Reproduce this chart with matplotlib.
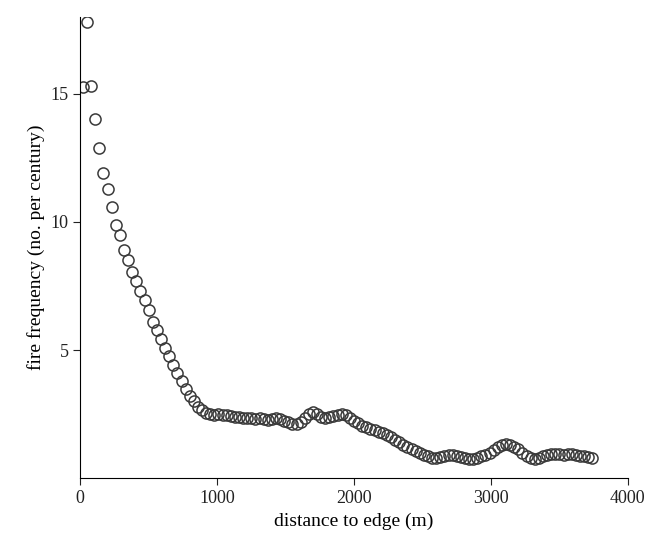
import matplotlib
matplotlib.use("Agg")
import matplotlib.pyplot as plt
import numpy as np

plt.rcParams["font.family"] = ["Liberation Serif", "DejaVu Serif"]

# distance to edge (m), every 30 m
distance = np.arange(20, 3750, 30)
freq = [
    15.25, 17.8, 15.3, 14.0, 12.9, 11.9, 11.3, 10.6, 9.9, 9.5,
    8.9, 8.5, 8.05, 7.7, 7.3, 6.95, 6.55, 6.1, 5.8, 5.45,
    5.1, 4.75, 4.4, 4.1, 3.8, 3.5, 3.2, 3.0, 2.78, 2.65,
    2.55, 2.5, 2.45,
    2.5, 2.48, 2.45, 2.42, 2.4, 2.38, 2.36, 2.35, 2.33, 2.32,
    2.33, 2.3, 2.28, 2.3, 2.35, 2.3, 2.25, 2.2, 2.12, 2.1,
    2.2, 2.35, 2.5, 2.6, 2.5, 2.4, 2.35, 2.38, 2.42, 2.45,
    2.5, 2.45, 2.35, 2.25, 2.15, 2.05, 1.98, 1.92, 1.88, 1.82,
    1.75, 1.68, 1.6, 1.5, 1.4, 1.3, 1.2, 1.12, 1.05, 0.97,
    0.9, 0.85, 0.8, 0.8, 0.82, 0.88, 0.9, 0.92, 0.88, 0.82,
    0.78, 0.75, 0.73, 0.78, 0.85, 0.92, 1.0, 1.1, 1.2, 1.28,
    1.32, 1.28, 1.2, 1.12, 1.0, 0.88, 0.78, 0.73, 0.78, 0.85,
    0.9, 0.93, 0.95, 0.93, 0.92, 0.93, 0.93, 0.9, 0.88, 0.85,
    0.83, 0.8,
]
distance = distance[:len(freq)]

fig = plt.figure(figsize=(6.52, 5.49), dpi=100)
ax = fig.add_axes([0.123, 0.129, 0.84, 0.84])
ax.plot(distance, freq, "o", ms=8, mfc="none", mec="#3a3a3a", mew=1.1)

ax.set_xlim(0, 4000)
ax.set_ylim(0, 18)
ax.set_xticks([0, 1000, 2000, 3000, 4000])
ax.set_yticks([5, 10, 15])
for s in ["top", "right"]:
    ax.spines[s].set_visible(False)
ax.tick_params(direction="out", length=5, labelsize=13, colors="#222222")
ax.set_xlabel("distance to edge (m)", fontsize=14)
ax.set_ylabel("fire frequency (no. per century)", fontsize=14)

fig.savefig("out.png", dpi=100)
